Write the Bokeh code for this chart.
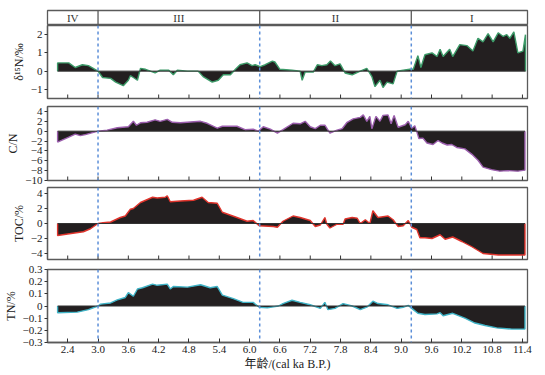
import math
from bokeh.plotting import figure
from bokeh.layouts import column
from bokeh.models import FixedTicker, CustomJSTickFormatter, Span, Range1d
from bokeh.core.properties import value
from bokeh.embed import file_html
from bokeh.resources import INLINE

# ---------------- data ----------------
x_ticks = [2.4, 3.0, 3.6, 4.2, 4.8, 5.4, 6.0, 6.6, 7.2, 7.8, 8.4, 9.0, 9.6, 10.2, 10.8, 11.4]
zone_bounds = [3.0, 6.2, 9.2]
zone_labels = ["IV", "III", "II", "I"]
zone_label_x = [2.5, 4.6, 7.7, 10.4]

age_d15n = [2.2, 2.42, 2.55, 2.69, 2.81, 3.0, 3.09, 3.25, 3.35, 3.5, 3.6, 3.64, 3.7, 3.78, 3.84,
            3.94, 4.13, 4.23, 4.4, 4.49, 4.57, 4.77, 4.98, 5.08, 5.26, 5.38, 5.48, 5.62, 5.72,
            5.81, 5.95, 6.05, 6.11, 6.21, 6.31, 6.45, 6.5, 6.6, 6.84, 7.0, 7.04, 7.1, 7.26, 7.34,
            7.43, 7.53, 7.6, 7.69, 7.79, 7.89, 8.03, 8.19, 8.32, 8.42, 8.48, 8.58, 8.64, 8.72,
            8.84, 8.92, 9.04, 9.17, 9.24, 9.33, 9.39, 9.47, 9.61, 9.71, 9.77, 9.83, 9.96, 10.02,
            10.16, 10.3, 10.42, 10.52, 10.62, 10.72, 10.82, 10.92, 11.02, 11.09, 11.15, 11.23,
            11.31, 11.41, 11.46]
d15n = [0.45, 0.45, 0.2, 0.35, 0.3, 0.0, -0.35, -0.4, -0.6, -0.8, -0.5, -0.25, -0.35, -0.5, 0.15,
        0.1, -0.1, 0.05, 0.05, -0.2, 0.05, 0.0, 0.0, -0.3, -0.6, -0.5, -0.2, -0.2, 0.1,
        0.35, 0.45, 0.3, 0.35, 0.25, 0.35, 0.55, 0.5, 0.1, 0.05, 0.0, -0.5, -0.05, -0.05, 0.35,
        0.3, 0.35, 0.55, 0.3, 0.4, -0.1, -0.2, 0.0, 0.15, -0.3, -0.85, -0.5, -0.9, -0.6,
        -0.7, 0.0, 0.05, 0.1, 0.1, 0.85, 0.2, 0.9, 1.0, 0.8, 1.2, 0.8, 1.2, 0.8,
        1.45, 1.4, 1.1, 1.8, 1.6, 2.05, 1.6, 2.1, 1.9, 2.0, 1.8, 2.15,
        1.0, 1.1, 2.0]

age_cn = [2.2, 2.4, 2.55, 2.65, 2.75, 3.0, 3.18, 3.38, 3.6, 3.7, 3.76, 3.84, 3.97, 4.13, 4.23,
          4.37, 4.47, 4.63, 5.03, 5.16, 5.36, 5.46, 5.75, 5.91, 6.07, 6.17, 6.27, 6.41, 6.55,
          6.66, 6.86, 7.0, 7.1, 7.2, 7.3, 7.4, 7.49, 7.59, 7.73, 7.83, 7.93, 8.05, 8.19, 8.25,
          8.32, 8.38, 8.42, 8.5, 8.58, 8.64, 8.74, 8.8, 8.86, 8.94, 9.08, 9.14, 9.21, 9.27,
          9.33, 9.35, 9.43, 9.51, 9.63, 9.73, 9.81, 9.91, 10.0, 10.1, 10.26, 10.4, 10.52,
          10.62, 10.79, 10.95, 11.11, 11.31, 11.45]
cn = [-2.2, -1.3, -0.6, -0.9, -0.7, 0.0, 0.2, 0.7, 0.9, 2.0, 1.2, 1.7, 1.8, 2.3, 2.0,
      2.4, 1.8, 1.7, 2.0, 1.6, 0.6, 1.0, 1.0, 0.3, 0.4, 0.0, 0.9, 0.4, -0.4,
      0.3, 1.6, 1.5, 2.0, 0.9, 0.5, 1.2, 1.2, -0.4, 0.2, 0.5, 1.8, 2.5, 2.8, 3.3,
      2.0, 3.0, 0.5, 3.0, 2.0, 3.2, 3.3, 1.5, 3.2, 0.8, 1.3, 2.0, 0.6, 1.1,
      -0.8, -1.5, -1.4, -2.4, -2.7, -1.9, -2.4, -2.8, -2.7, -3.3, -3.6, -4.7, -5.9,
      -7.3, -7.8, -8.1, -8.0, -8.1, -7.9]

age_toc = [2.2, 2.4, 2.71, 2.85, 3.0, 3.1, 3.25, 3.44, 3.54, 3.64, 3.7, 3.84, 4.08, 4.17, 4.33,
           4.37, 4.43, 4.63, 4.89, 5.06, 5.18, 5.36, 5.46, 5.75, 5.95, 6.07, 6.19, 6.47, 6.55,
           6.66, 6.86, 7.0, 7.2, 7.3, 7.4, 7.49, 7.53, 7.59, 7.73, 7.85, 7.89, 8.03, 8.13, 8.19,
           8.29, 8.38, 8.44, 8.54, 8.64, 8.74, 8.84, 8.94, 9.04, 9.14, 9.21, 9.31, 9.37, 9.47,
           9.61, 9.77, 9.87, 10.02, 10.2, 10.4, 10.62, 10.92, 11.19, 11.45]
toc = [-1.6, -1.4, -1.1, -0.7, 0.0, 0.1, 0.2, 0.8, 1.0, 1.9, 2.0, 2.8, 3.5, 3.4, 3.5,
       3.7, 2.9, 3.0, 3.1, 3.5, 2.8, 2.7, 1.5, 0.8, 0.3, 0.4, -0.3, -0.4, -0.5,
       0.3, 1.0, 0.8, 0.4, -0.4, -0.2, 0.8, -0.1, -0.6, -0.1, -0.1, 0.6, 0.8, 0.7, 0.0,
       0.5, 0.0, 1.7, 0.8, 0.9, 1.0, 0.5, -0.4, -0.3, 0.4, -0.5, -0.8, -1.9, -1.9,
       -2.0, -1.5, -2.1, -1.8, -2.4, -3.1, -4.0, -4.2, -4.2, -4.2]

age_tn = [2.2, 2.59, 2.81, 3.0, 3.05, 3.25, 3.38, 3.54, 3.6, 3.7, 3.78, 3.88, 4.08, 4.17, 4.37,
          4.43, 4.49, 4.77, 5.03, 5.22, 5.36, 5.46, 5.68, 5.87, 6.07, 6.19, 6.35, 6.57, 6.66,
          6.84, 7.0, 7.2, 7.4, 7.49, 7.55, 7.69, 7.85, 8.03, 8.19, 8.32, 8.44, 8.54, 8.74,
          8.92, 9.04, 9.14, 9.24, 9.33, 9.47, 9.71, 9.77, 9.83, 10.02, 10.26, 10.46, 10.66,
          10.89, 11.19, 11.45]
tn = [-0.055, -0.05, -0.03, 0.0, 0.015, 0.025, 0.05, 0.07, 0.11, 0.08, 0.14, 0.15, 0.18, 0.17, 0.18,
      0.14, 0.16, 0.155, 0.175, 0.15, 0.16, 0.09, 0.06, 0.03, 0.03, -0.01, -0.015, 0.0, 0.02,
      0.047, 0.03, 0.01, -0.02, 0.03, -0.03, -0.02, 0.02, 0.0, -0.03, -0.01, 0.04, 0.02, 0.01,
      -0.02, -0.01, 0.005, -0.03, -0.06, -0.07, -0.065, -0.055, -0.08, -0.06, -0.1, -0.14, -0.16,
      -0.18, -0.19, -0.19]

# ---------------- style ----------------
SERIF = "Liberation Serif"
FRAME = "#5a5a5a"
FILL = "#231f20"
DASH = "#5b8ed8"
W = 537
LEFT = 47
RIGHT = 10

x_range = Range1d(2.0, 11.5)


def fmt(decimals):
    return CustomJSTickFormatter(code="""
        if (Math.abs(tick) < 1e-9) return '0';
        const s = Math.abs(tick).toFixed(%d);
        return (tick < 0 ? '\\u2212' : '') + s;
    """ % decimals)


# ---- header strip with zone labels ----
hdr = figure(width=W, height=25, x_range=x_range, y_range=Range1d(0, 1),
             output_backend="svg", toolbar_location=None,
             min_border_left=LEFT, min_border_right=RIGHT,
             min_border_top=10, min_border_bottom=0,
             x_axis_location=None, y_axis_location=None)
hdr.grid.visible = False
hdr.outline_line_color = FRAME
hdr.outline_line_width = 1.3
for b in zone_bounds:
    hdr.add_layout(Span(location=b, dimension="height", line_color=FRAME, line_width=1.3))
hdr.text(x=zone_label_x, y=[0.5] * 4, text=zone_labels,
         text_font=value(SERIF), text_font_size="11px", text_color="#333333",
         text_align="center", text_baseline="middle")


def make_panel(h, top, bottom, yr, yticks, ydec, ylabel, xs, ys, color, last=False):
    p = figure(width=W, height=h, x_range=x_range, y_range=Range1d(*yr),
               output_backend="svg", toolbar_location=None,
               min_border_left=LEFT, min_border_right=RIGHT,
               min_border_top=top, min_border_bottom=bottom)
    p.grid.visible = False
    p.outline_line_color = FRAME
    p.outline_line_width = 1.3

    xs_p = [xs[0]] + list(xs) + [xs[-1]]
    ys_p = [0] + list(ys) + [0]
    p.varea(x=xs_p, y1=0, y2=ys_p, fill_color=FILL)
    p.line(xs_p, ys_p, line_color=color, line_width=1.4)
    p.line([xs[0], xs[-1]], [0, 0], line_color="#333333", line_width=1)

    for b in zone_bounds:
        p.add_layout(Span(location=b, dimension="height", line_color=DASH,
                          line_dash="3 3", line_width=1.5))

    if last:
        xa = p.xaxis[0]
        xa.ticker = FixedTicker(ticks=x_ticks)
        xa.major_tick_in = 4
        xa.major_tick_out = 0
        xa.minor_tick_line_color = None
        xa.axis_line_color = FRAME
        xa.axis_line_width = 1.3
        xa.major_tick_line_color = "#333333"
        xa.formatter = CustomJSTickFormatter(code="return tick.toFixed(1);")
        xa.major_label_text_font = SERIF
        xa.major_label_text_font_size = "11px"
        xa.major_label_text_color = "#222222"
        xa.major_label_standoff = 3
        xa.axis_label = "年龄/(cal ka B.P.)"
        xa.axis_label_text_font = "Liberation Serif, Noto Sans CJK SC"
        xa.axis_label_text_font_size = "12px"
        xa.axis_label_text_font_style = "normal"
        xa.axis_label_text_color = "#222222"
        xa.axis_label_standoff = 1
    else:
        p.xaxis.visible = False
        # inward tick marks along the bottom edge at the age ticks
        p.ray(x=x_ticks, y=[yr[0]] * len(x_ticks), length=4, length_units="screen",
              angle=math.pi / 2, line_color="#333333", line_width=1)

    ya = p.yaxis[0]
    ya.ticker = FixedTicker(ticks=yticks)
    ya.formatter = fmt(ydec)
    ya.major_tick_in = 0
    ya.major_tick_out = 3
    ya.minor_tick_line_color = None
    ya.axis_line_color = FRAME
    ya.axis_line_width = 1.3
    ya.major_tick_line_color = "#333333"
    ya.major_label_text_font = SERIF
    ya.major_label_text_font_size = "11px"
    ya.major_label_text_color = "#222222"
    ya.major_label_standoff = 2
    ya.axis_label = ylabel
    ya.axis_label_text_font = SERIF
    ya.axis_label_text_font_size = "12px"
    ya.axis_label_text_font_style = "normal"
    ya.axis_label_text_color = "#222222"
    ya.axis_label_standoff = 2
    return p


p1 = make_panel(77, 0, 4, (-1.5, 2.5), [-1, 0, 1, 2], 0, "δ¹⁵N/‰",
                age_d15n, d15n, "#3c9a68")
p2 = make_panel(84, 4, 6, (-10, 5), [-10, -8, -6, -4, -2, 0, 2, 4], 0, "C/N",
                age_cn, cn, "#9c5fae")
p3 = make_panel(76, 1, 3, (-4.8, 4.8), [-4, -2, 0, 2, 4], 0, "TOC/%",
                age_toc, toc, "#e0342c")
p4 = make_panel(113, 7, 33, (-0.3, 0.3), [-0.3, -0.2, -0.1, 0, 0.1, 0.2, 0.3], 1, "TN/%",
                age_tn, tn, "#3fb3c6", last=True)

layout = column(hdr, p1, p2, p3, p4, spacing=0)
open("out.html", "w").write(file_html(layout, INLINE))
